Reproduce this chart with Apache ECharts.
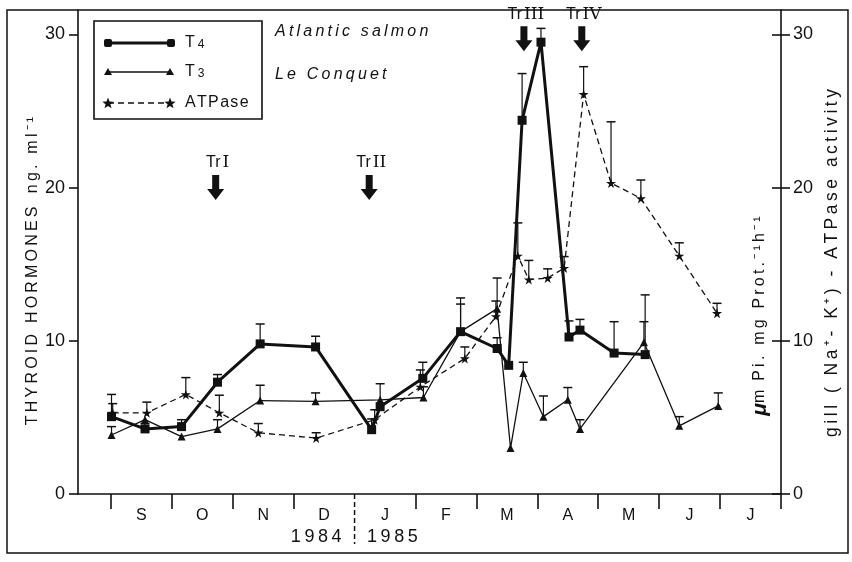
<!DOCTYPE html>
<html>
<head>
<meta charset="utf-8">
<title>Thyroid hormones and gill ATPase - Atlantic salmon, Le Conquet</title>
<script src="https://cdn.jsdelivr.net/npm/echarts@6/dist/echarts.min.js"></script>
<style>
  html, body { margin: 0; padding: 0; background: #fff; }
  #chart { width: 852px; height: 562px; }
</style>
</head>
<body>
<div id="chart"></div>
<script>
// x is counted in months from 1 Sept 1984 (0) to 1 Aug 1985 (11)
const monthLetters = ['S', 'O', 'N', 'D', 'J', 'F', 'M', 'A', 'M', 'J', 'J'];
const monthTicks = [0, 1, 2, 3, 5, 6, 7, 8, 9, 10, 11]; // 4 = new year, drawn dashed
const monthLabelPos = [0.5, 1.5, 2.5, 3.5, 4.5, 5.5, 6.5, 7.5, 8.5, 9.5, 10.5];
const yTicks = [0, 10, 20, 30];
const yearLabels = ['1984', '1985'];
const yearPos = [3.37, 4.62];

// T4 (ng/ml)
const t4Month = [0.01, 0.56, 1.16, 1.75, 2.45, 3.36, 4.28, 4.42, 5.12, 5.74, 6.34, 6.53, 6.75, 7.06, 7.52, 7.70, 8.26, 8.77];
const t4Value = [5.05, 4.25, 4.4, 7.3, 9.8, 9.6, 4.2, 5.7, 7.55, 10.6, 9.5, 8.4, 24.4, 29.5, 10.25, 10.7, 9.2, 9.1];
const t4Upper = [6.5, 4.6, 4.85, 7.8, 11.1, 10.3, 4.9, 7.2, 8.6, 12.8, 10.2, null, 27.45, 30.4, 11.3, 11.4, 11.25, 13.0];

// T3 (ng/ml)
const t3Month = [0.01, 0.56, 1.16, 1.75, 2.45, 3.36, 4.42, 5.13, 5.74, 6.34, 6.56, 6.77, 7.10, 7.50, 7.70, 8.75, 9.33, 9.97];
const t3Value = [3.85, 4.85, 3.75, 4.25, 6.1, 6.05, 6.15, 6.3, 10.6, 12.1, 3.0, 7.9, 5.05, 6.15, 4.25, 9.9, 4.45, 5.75];
const t3Upper = [4.4, null, null, 4.85, 7.1, 6.6, null, 7.0, 12.4, 14.1, null, 8.6, 6.4, 6.95, 4.85, 11.25, 5.05, 6.6];

// gill Na+K+ ATPase (um Pi / mg prot / h)
const atpMonth = [0.03, 0.59, 1.23, 1.78, 2.42, 3.37, 4.33, 5.08, 5.81, 6.32, 6.68, 6.86, 7.17, 7.44, 7.76, 8.21, 8.70, 9.33, 9.95];
const atpValue = [5.3, 5.3, 6.5, 5.3, 4.0, 3.65, 4.85, 7.0, 8.85, 11.6, 15.55, 14.0, 14.1, 14.75, 26.1, 20.3, 19.3, 15.55, 11.8];
const atpUpper = [5.9, 6.0, 7.6, 6.45, 4.6, 4.0, 5.5, 8.1, 9.6, 12.6, 17.7, 15.25, 14.7, 15.5, 27.9, 24.3, 20.5, 16.4, 12.45];

// transfers (arrows)
const treatNum = ['I', 'II', 'III', 'IV'];
const treatMonth = [1.72, 4.24, 6.78, 7.73];
const treatTip = [19.2, 19.2, 28.9, 28.9];

const INK = '#111';
const FONT = "'Liberation Sans', Arial, sans-serif";
const STAR = 'path://M50,0 L61,35 L98,35 L68,57 L79,91 L50,70 L21,91 L32,57 L2,35 L39,35 Z';
const spaced = (s, sp) => s.split('').join(sp || '\u2009');

const pairs = (xs, ys) => xs.map((x, i) => [x, ys[i]]);
const bars = (xs, ys, ups) => xs.map((x, i) => [x, ys[i], ups[i]]).filter(d => d[2] != null);

// 5-point star as polygon points (legend only)
function starPoints(cx, cy, r) {
  const pts = [];
  for (let i = 0; i < 10; i++) {
    const a = -Math.PI / 2 + i * Math.PI / 5;
    const rr = i % 2 ? r * 0.42 : r;
    pts.push([cx + rr * Math.cos(a), cy + rr * Math.sin(a)]);
  }
  return pts;
}

function errorBar(params, api) {
  const base = api.coord([api.value(0), api.value(1)]);
  const top = api.coord([api.value(0), api.value(2)]);
  return {
    type: 'group',
    children: [
      { type: 'line', shape: { x1: base[0], y1: base[1], x2: top[0], y2: top[1] }, style: { stroke: INK, lineWidth: 1.2 } },
      { type: 'line', shape: { x1: top[0] - 4.5, y1: top[1], x2: top[0] + 4.5, y2: top[1] }, style: { stroke: INK, lineWidth: 1.5 } }
    ]
  };
}

function treatmentArrow(params, api) {
  const p = api.coord([api.value(0), api.value(1)]);
  const x = p[0], y = p[1];
  return {
    type: 'group',
    children: [
      {
        type: 'polygon',
        shape: { points: [[x - 3.5, y - 25], [x + 3.5, y - 25], [x + 3.5, y - 11], [x + 8.5, y - 11], [x, y], [x - 8.5, y - 11], [x - 3.5, y - 11]] },
        style: { fill: INK }
      },
      {
        type: 'text', x: x + 2, y: y - 37,
        style: {
          text: '{a|Tr}{b|' + treatNum[params.dataIndex] + '}',
          align: 'center', verticalAlign: 'middle',
          rich: {
            a: { fontSize: 16, fontFamily: FONT, fill: INK },
            b: { fontSize: 17, fontFamily: "'DejaVu Serif', serif", fill: INK, padding: [0, 0, 0, 2] }
          }
        }
      }
    ]
  };
}

// dashed year break under the axis and the year labels
function yearBreak(params, api) {
  const p = api.coord([api.value(0), 0]);
  const children = [{
    type: 'line', shape: { x1: p[0], y1: p[1], x2: p[0], y2: p[1] + 50 },
    style: { stroke: INK, lineWidth: 1.5, lineDash: [5, 3] }
  }];
  yearLabels.forEach((t, i) => {
    const q = api.coord([yearPos[i], 0]);
    children.push({
      type: 'text', x: q[0], y: q[1] + 43,
      style: { text: spaced(t), fill: INK, font: '18px ' + FONT, align: 'center', verticalAlign: 'middle' }
    });
  });
  return { type: 'group', children: children };
}

const yBase = {
  type: 'value', min: 0, max: 31.6,
  splitLine: { show: false },
  axisLine: { show: true, onZero: false, lineStyle: { color: INK, width: 1.6 } },
  axisTick: { show: true, customValues: yTicks, length: 9, lineStyle: { color: INK, width: 1.6 } },
  axisLabel: { customValues: yTicks, fontSize: 18, color: INK, fontFamily: FONT, margin: 13 }
};

const chart = echarts.init(document.getElementById('chart'));
chart.setOption({
  animation: false,
  backgroundColor: '#fff',
  textStyle: { fontFamily: FONT, color: INK },
  grid: { left: 78, right: 71, top: 10, bottom: 68 },
  xAxis: {
    type: 'value', min: -0.54, max: 11,
    splitLine: { show: false },
    axisLine: { onZero: false, lineStyle: { color: INK, width: 1.6 } },
    axisTick: { customValues: monthTicks, length: 15, lineStyle: { color: INK, width: 1.6 } },
    axisLabel: {
      customValues: monthLabelPos, fontSize: 16, color: INK, margin: 14,
      formatter: v => monthLetters[Math.floor(v)]
    }
  },
  yAxis: [
    Object.assign({}, yBase, { position: 'left' }),
    Object.assign({}, yBase, { position: 'right', axisLabel: Object.assign({}, yBase.axisLabel, { margin: 12 }) }),
    {
      type: 'value', min: 0, max: 31.6, position: 'right',
      splitLine: { show: false },
      axisLine: { show: false, onZero: false },
      axisTick: { show: true, inside: true, customValues: yTicks, length: 9, lineStyle: { color: INK, width: 1.6 } },
      axisLabel: { show: false }
    }
  ],
  series: [
    { type: 'custom', name: 'T4 err', renderItem: errorBar, data: bars(t4Month, t4Value, t4Upper), encode: { x: 0, y: [1, 2] }, z: 1 },
    { type: 'custom', name: 'T3 err', renderItem: errorBar, data: bars(t3Month, t3Value, t3Upper), encode: { x: 0, y: [1, 2] }, z: 1 },
    { type: 'custom', name: 'ATPase err', yAxisIndex: 1, renderItem: errorBar, data: bars(atpMonth, atpValue, atpUpper), encode: { x: 0, y: [1, 2] }, z: 1 },
    {
      type: 'line', name: 'ATPase', yAxisIndex: 1, data: pairs(atpMonth, atpValue),
      symbol: STAR, symbolSize: 10, itemStyle: { color: INK },
      lineStyle: { color: INK, width: 1.3, type: [6, 4] }, z: 3
    },
    {
      type: 'line', name: 'T3', data: pairs(t3Month, t3Value),
      symbol: 'triangle', symbolSize: 8, itemStyle: { color: INK },
      lineStyle: { color: INK, width: 1.3 }, z: 4
    },
    {
      type: 'line', name: 'T4', data: pairs(t4Month, t4Value),
      symbol: 'rect', symbolSize: 9, itemStyle: { color: INK },
      lineStyle: { color: INK, width: 3 }, z: 5
    },
    { type: 'custom', name: 'transfers', renderItem: treatmentArrow, data: pairs(treatMonth, treatTip), encode: { x: 0, y: 1 }, clip: false, z: 6 },
    { type: 'custom', name: 'year break', renderItem: yearBreak, data: [[4, 0]], encode: { x: 0, y: 1 }, clip: false, z: 6 }
  ],
  graphic: [
    // figure frame
    { type: 'rect', shape: { x: 7, y: 10, width: 841, height: 543 }, style: { fill: null, stroke: INK, lineWidth: 1.5 }, z: 0 },
    // axis titles
    {
      type: 'text', x: 33, y: 271, rotation: Math.PI / 2,
      style: { text: spaced('THYROID HORMONES') + '   ' + spaced('ng. ml\u207B\u00B9'), fill: INK, font: '16px ' + FONT, align: 'center', verticalAlign: 'middle' }
    },
    {
      type: 'text', x: 760, y: 316, rotation: Math.PI / 2,
      style: {
        text: '{m|\u03BC}{r|m\u00A0\u00A0' + spaced('Pi. mg Prot.\u207B\u00B9h\u207B\u00B9') + '}',
        align: 'center', verticalAlign: 'middle',
        rich: {
          m: { fontSize: 21, fontStyle: 'italic', fontWeight: 'bold', fontFamily: FONT, fill: INK },
          r: { fontSize: 16, fontFamily: FONT, fill: INK }
        }
      }
    },
    {
      type: 'text', x: 832, y: 263, rotation: Math.PI / 2,
      style: { text: spaced('gill ( Na\u207A- K\u207A) - ATPase activity'), fill: INK, font: '17.5px ' + FONT, align: 'center', verticalAlign: 'middle' }
    },
    // site caption
    { type: 'text', x: 275, y: 32, style: { text: spaced('Atlantic salmon'), fill: INK, font: 'italic 16px ' + FONT, verticalAlign: 'middle' } },
    { type: 'text', x: 275, y: 75, style: { text: spaced('Le Conquet'), fill: INK, font: 'italic 16px ' + FONT, verticalAlign: 'middle' } },
    // legend
    {
      type: 'group',
      children: [
        { type: 'rect', shape: { x: 94, y: 21, width: 168, height: 98 }, style: { fill: '#fff', stroke: INK, lineWidth: 1.6 } },
        { type: 'line', shape: { x1: 108, y1: 43, x2: 171, y2: 43 }, style: { stroke: INK, lineWidth: 3 } },
        { type: 'rect', shape: { x: 104, y: 39, width: 8, height: 8, r: 2 }, style: { fill: INK } },
        { type: 'rect', shape: { x: 167, y: 39, width: 8, height: 8, r: 2 }, style: { fill: INK } },
        { type: 'text', x: 185, y: 43, style: { text: '{a|T}{b|4}', verticalAlign: 'middle', rich: { a: { fontSize: 16, fontFamily: FONT, fill: INK }, b: { fontSize: 12, fontFamily: FONT, fill: INK, padding: [4, 0, 0, 3] } } } },
        { type: 'line', shape: { x1: 108, y1: 72, x2: 170, y2: 72 }, style: { stroke: INK, lineWidth: 1.3 } },
        { type: 'polygon', shape: { points: [[108, 68], [112, 75], [104, 75]] }, style: { fill: INK } },
        { type: 'polygon', shape: { points: [[170, 68], [174, 75], [166, 75]] }, style: { fill: INK } },
        { type: 'text', x: 185, y: 72, style: { text: '{a|T}{b|3}', verticalAlign: 'middle', rich: { a: { fontSize: 16, fontFamily: FONT, fill: INK }, b: { fontSize: 12, fontFamily: FONT, fill: INK, padding: [4, 0, 0, 3] } } } },
        { type: 'line', shape: { x1: 108, y1: 103, x2: 170, y2: 103 }, style: { stroke: INK, lineWidth: 1.3, lineDash: [6, 4] } },
        { type: 'polygon', shape: { points: starPoints(108, 103.5, 6) }, style: { fill: INK } },
        { type: 'polygon', shape: { points: starPoints(170, 103.5, 6) }, style: { fill: INK } },
        { type: 'text', x: 185, y: 103, style: { text: spaced('ATPase', '\u200A'), fill: INK, font: '16px ' + FONT, verticalAlign: 'middle' } }
      ]
    }
  ]
});
</script>
</body>
</html>
